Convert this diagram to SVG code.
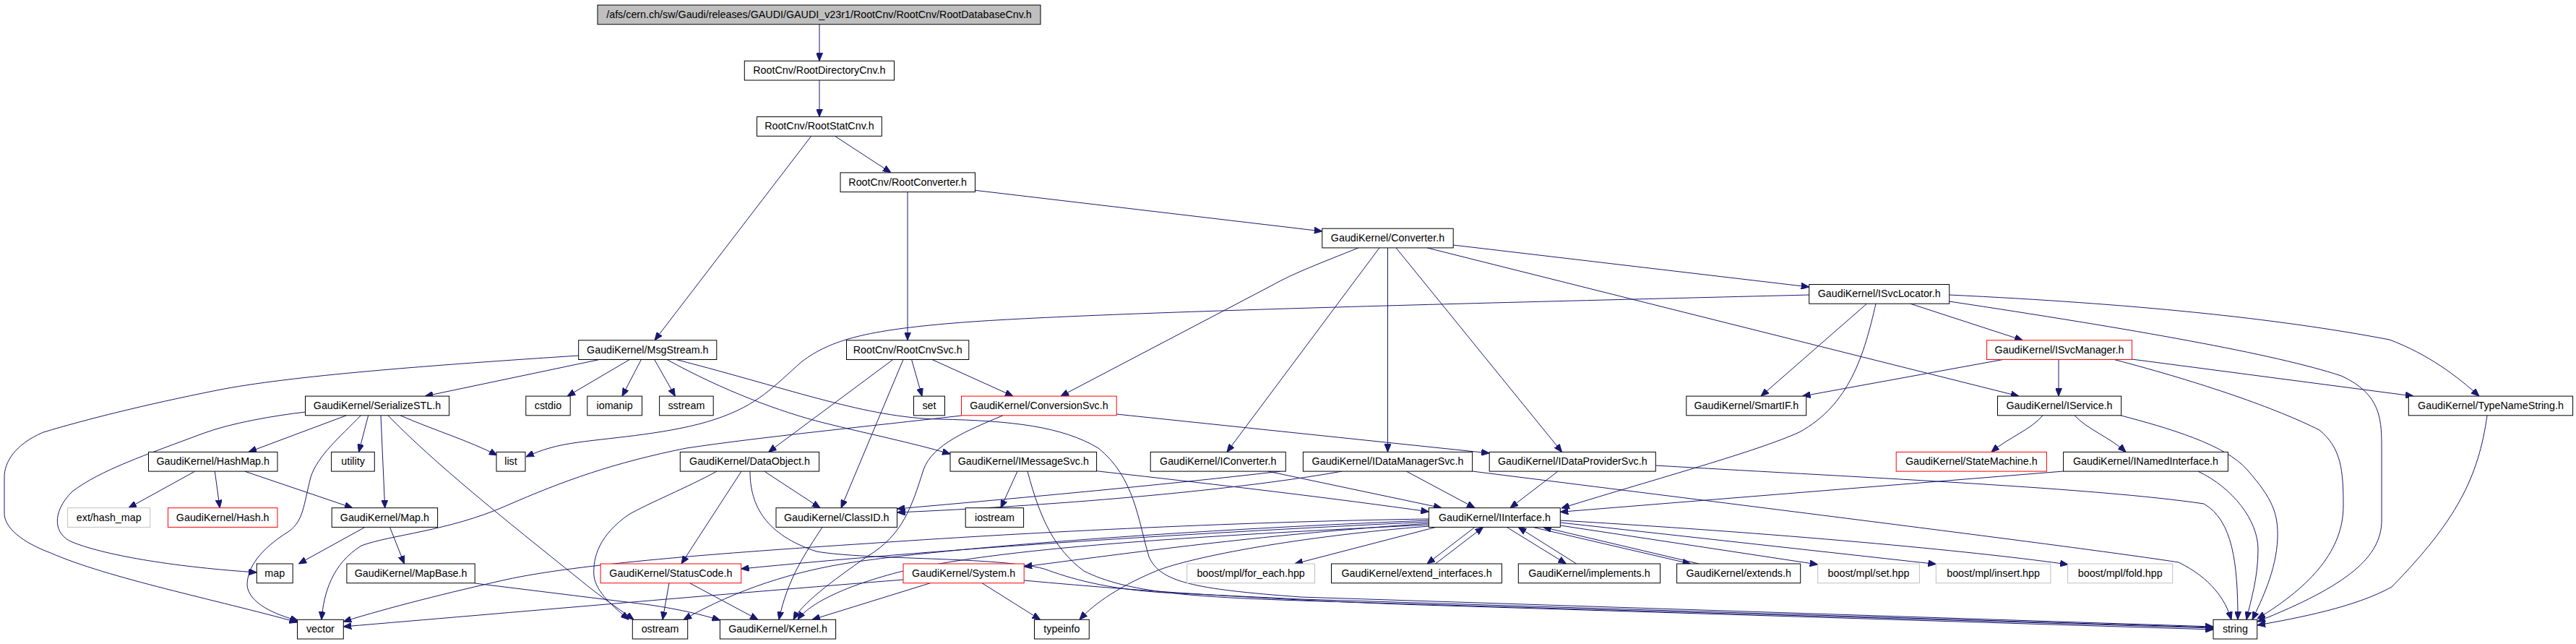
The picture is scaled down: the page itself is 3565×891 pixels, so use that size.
<svg xmlns="http://www.w3.org/2000/svg" width="3565" height="891" viewBox="0 0 3565 891">
<style>
rect{fill:#fff;stroke:#000;stroke-width:1}
rect.red{stroke:#ff0000}
rect.gry{stroke:#bfbfbf}
rect.root{fill:#bfbfbf}
text{font-family:"Liberation Sans",Arial,sans-serif;font-size:14.3px;text-anchor:middle;fill:#000}
#edges path{fill:none;stroke:#191970;stroke-width:1;marker-end:url(#ah)}
</style>
<defs>
<marker id="ah" markerWidth="11" markerHeight="9" refX="11" refY="4.5" orient="auto" markerUnits="userSpaceOnUse">
<path d="M0,0 L11,4.5 L0,9 z" fill="#191970" stroke="#191970" stroke-width="1"/>
</marker>
</defs>
<rect x="0" y="0" width="3565" height="891" style="fill:#fff;stroke:none"/>
<g id="edges">
<path d="M1134,33.7 L1134,84.3"/>
<path d="M1134,111 L1134,161.6"/>
<path d="M1122.7,188.3 L906,470.8"/>
<path d="M1155.4,188.3 L1233,238.9"/>
<path d="M1256,265.6 L1256,470.8"/>
<path d="M1349.4,263.3 L1829.8,320"/>
<path d="M2011,339 L2503.7,397"/>
<path d="M1880,342.9 C1830,363 1790,378 1760,395 L1468,548.1"/>
<path d="M1909,342.9 L1698,625.4"/>
<path d="M1920.5,342.9 L1920.5,625.4"/>
<path d="M1932,342.9 L2161.6,625.4"/>
<path d="M1975,342.9 L2793.8,548.1"/>
<path d="M2503.7,408 C2100,418 1500,432 1320,447 C1200,457 1150,470 1110,500 C1070,535 1050,560 990,580 C930,600 850,605 800,612 C770,616 750,622 728,632"/>
<path d="M2596,420.2 C2580,490 2560,560 2490,598 C2430,625 2300,660 2161,703"/>
<path d="M2583.5,420.2 L2437,548.1"/>
<path d="M2643.8,420.2 L2799.3,470.8"/>
<path d="M2697.7,408 C2950,420 3150,440 3307,470 C3360,490 3400,520 3431,548.1"/>
<path d="M2697.7,417 C2950,455 3150,490 3240,520 C3295,545 3296,580 3296,620 L3296,720 C3296,770 3250,810 3124,860"/>
<path d="M2771.7,497.5 L2494.5,548.1"/>
<path d="M2849,497.5 L2849,548.1"/>
<path d="M2950.5,497 L3340,548.1"/>
<path d="M2926,497.5 C3050,530 3150,565 3210,595 C3240,620 3243,650 3243,700 C3243,760 3200,810 3124,856"/>
<path d="M2827,574.8 C2810,595 2780,605 2756,625.4"/>
<path d="M2871,574.8 C2890,595 2920,605 2942,625.4"/>
<path d="M2935,574.8 C3000,592 3080,615 3110,650 C3145,690 3153,710 3152,745 C3150,790 3130,830 3117,857.3"/>
<path d="M3442,574.8 C3430,660 3400,720 3310,812 C3260,840 3180,855 3124,865"/>
<path d="M2855.6,652 L2159.3,708.3"/>
<path d="M3042,652.1 C3090,675 3125,720 3125,760 C3125,800 3115,830 3109,857.3"/>
<path d="M2291.3,644 C2600,662 2900,675 3050,697 C3090,720 3097,780 3097,857.3"/>
<path d="M2037.6,652 C2500,710 2900,760 3015,778 C3060,800 3080,830 3088,857.3"/>
<path d="M2156,652.1 L2090,702.7"/>
<path d="M1946.4,652.1 L2041,702.7"/>
<path d="M1755,652.1 L1995,702.7"/>
<path d="M1772,652.1 C1600,672 1400,690 1241.5,704"/>
<path d="M1857,652.1 C1700,680 1450,700 1241.5,709"/>
<path d="M1517.6,651.7 C1700,672 1850,690 1977.4,708"/>
<path d="M1408,652.1 L1385,702.7"/>
<path d="M1422,652.1 C1440,720 1460,760 1500,790 C1560,820 1650,826 1800,831 L3063,869"/>
<path d="M936,497.5 C1100,540 1200,578 1300,580 C1400,582 1470,590 1520,620 C1570,660 1575,720 1590,770 C1605,805 1650,815 1800,826 L3063,867"/>
<path d="M1038,652.1 C1038,700 1060,740 1130,763 C1200,775 1380,770 1445,787 C1480,800 1530,815 1612,820 L1800,829 L3063,868"/>
<path d="M1417.2,803 C1600,820 1800,832 2000,838 L3063,871"/>
<path d="M1235.8,497.5 L1063.6,625.4"/>
<path d="M1250,497.5 L1164,702.7"/>
<path d="M1261.6,497.5 L1276,548.1"/>
<path d="M1290,497.5 L1402,548.1"/>
<path d="M905.7,497.5 L934.4,548.1"/>
<path d="M923,497.5 C1000,540 1080,570 1140,585 C1200,600 1260,612 1315,628"/>
<path d="M829.4,497.5 L588.3,548.1"/>
<path d="M871.3,497.5 L785.2,548.1"/>
<path d="M887.4,497.5 L861,548.1"/>
<path d="M800.7,492 C600,505 400,520 300,540 C200,560 120,580 60,598 C20,615 6,640 6,660 L6,710 C6,730 30,750 70,765 C150,800 300,830 411.5,861"/>
<path d="M422.5,570 C380,575 320,585 280,600 C200,630 140,650 100,680 C70,710 75,740 100,750 C150,770 250,785 355.3,792"/>
<path d="M479.3,574.8 L344,625.4"/>
<path d="M499.4,574.8 C470,605 440,630 430,660 C420,700 420,720 400,735 C360,760 342,785 342,810 C345,835 380,850 413,859"/>
<path d="M509.7,574.8 L496.5,625.4"/>
<path d="M527,574.8 L532.7,702.7"/>
<path d="M537,574.8 C600,640 700,720 800,800 C830,825 860,845 877,857.3"/>
<path d="M554,574.8 C600,595 650,610 688,630"/>
<path d="M269.8,652.1 L178,702.7"/>
<path d="M297.3,652.1 L304.2,702.7"/>
<path d="M338.7,652.1 L487.9,702.7"/>
<path d="M505,729.4 L413.3,780"/>
<path d="M539.5,729.4 L559.6,780"/>
<path d="M657.2,807 L900,837 C940,843 970,850 996.4,858"/>
<path d="M1057.8,652.1 L1135,702.7"/>
<path d="M1026,652.1 L943,780"/>
<path d="M992,652.1 C950,675 900,695 870,712 C830,740 820,770 822,797 C825,820 850,840 870,857.3"/>
<path d="M1138,729.4 C1115,765 1090,800 1078,857.3"/>
<path d="M1330.5,575 C1200,590 1050,605 950,620 C850,640 780,665 700,700 C620,735 540,740 500,755 C460,780 448,820 445,857.3"/>
<path d="M1388,574.8 C1340,595 1290,615 1278,650 C1262,700 1250,740 1200,770 C1150,805 1110,835 1098,857.3"/>
<path d="M1545.2,573 L2061.2,627"/>
<path d="M926,806.7 L917,857.3"/>
<path d="M954.5,806.7 L1049,857.3"/>
<path d="M1250,802 C1000,822 700,848 475.3,867"/>
<path d="M1287.5,806.7 L1124,857.3"/>
<path d="M1359,806.7 L1439.6,857.3"/>
<path d="M1977.4,718 C1700,722 1400,738 1200,752 C1000,765 800,780 700,802 C620,820 540,840 475.3,860"/>
<path d="M1977.4,720 C1600,735 1300,760 1180,778 C1100,790 1020,815 946,857.3"/>
<path d="M1977.4,722 C1600,740 1300,760 1025.7,787"/>
<path d="M1977.4,724 C1750,740 1600,760 1417.2,784"/>
<path d="M1977.4,726 C1700,740 1400,755 1250,790 C1170,810 1120,835 1104,857.3"/>
<path d="M1977.4,728 C1800,742 1650,770 1600,790 C1540,815 1510,840 1494,857.3"/>
<path d="M1987,729.4 L1792,780"/>
<path d="M2041,729.4 L1975,780"/>
<path d="M1986.5,780 L2052.6,729.4"/>
<path d="M2085.3,729.4 L2167.4,780"/>
<path d="M2181.7,780 L2101.3,729.4"/>
<path d="M2121.4,729.4 L2339.5,780"/>
<path d="M2351,780 L2135.8,729.4"/>
<path d="M2159.3,727 L2515.7,781"/>
<path d="M2159.3,723 L2679.3,780.5"/>
<path d="M2159.3,720 C2500,740 2750,765 2862,781"/>
</g>
<g id="n_top"><rect class="root" x="827" y="7" width="613" height="26.7"/><text x="1133.5" y="24.8">/afs/cern.ch/sw/Gaudi/releases/GAUDI/GAUDI_v23r1/RootCnv/RootCnv/RootDatabaseCnv.h</text></g>
<g id="n_RootDirectoryCnv"><rect x="1030.3" y="84.3" width="207.2" height="26.7"/><text x="1133.9" y="102.1">RootCnv/RootDirectoryCnv.h</text></g>
<g id="n_RootStatCnv"><rect x="1047.5" y="161.6" width="172.8" height="26.7"/><text x="1133.9" y="179.4">RootCnv/RootStatCnv.h</text></g>
<g id="n_RootConverter"><rect x="1163" y="238.9" width="186.5" height="26.7"/><text x="1256.2" y="256.7">RootCnv/RootConverter.h</text></g>
<g id="n_Converter"><rect x="1829.8" y="316.2" width="181.4" height="26.7"/><text x="1920.5" y="334">GaudiKernel/Converter.h</text></g>
<g id="n_ISvcLocator"><rect x="2503.7" y="393.5" width="194" height="26.7"/><text x="2600.7" y="411.3">GaudiKernel/ISvcLocator.h</text></g>
<g id="n_MsgStream"><rect x="800.7" y="470.8" width="191.1" height="26.7"/><text x="896.3" y="488.6">GaudiKernel/MsgStream.h</text></g>
<g id="n_RootCnvSvc"><rect x="1171.5" y="470.8" width="169.3" height="26.7"/><text x="1256.2" y="488.6">RootCnv/RootCnvSvc.h</text></g>
<g id="n_ISvcManager"><rect class="red" x="2749.6" y="470.8" width="200.9" height="26.7"/><text x="2850" y="488.6">GaudiKernel/ISvcManager.h</text></g>
<g id="n_SerializeSTL"><rect x="422.5" y="548.1" width="199.1" height="26.7"/><text x="522" y="565.9">GaudiKernel/SerializeSTL.h</text></g>
<g id="n_cstdio"><rect x="727.8" y="548.1" width="61.4" height="26.7"/><text x="758.5" y="565.9">cstdio</text></g>
<g id="n_iomanip"><rect x="812.8" y="548.1" width="75.7" height="26.7"/><text x="850.6" y="565.9">iomanip</text></g>
<g id="n_sstream"><rect x="912.6" y="548.1" width="74.6" height="26.7"/><text x="949.9" y="565.9">sstream</text></g>
<g id="n_set"><rect x="1264.5" y="548.1" width="43" height="26.7"/><text x="1286" y="565.9">set</text></g>
<g id="n_ConversionSvc"><rect class="red" x="1330.5" y="548.1" width="214.7" height="26.7"/><text x="1437.9" y="565.9">GaudiKernel/ConversionSvc.h</text></g>
<g id="n_SmartIF"><rect x="2333.8" y="548.1" width="165.9" height="26.7"/><text x="2416.8" y="565.9">GaudiKernel/SmartIF.h</text></g>
<g id="n_IService"><rect x="2764.5" y="548.1" width="171.1" height="26.7"/><text x="2850" y="565.9">GaudiKernel/IService.h</text></g>
<g id="n_TypeNameString"><rect x="3333.3" y="548.1" width="227.3" height="26.7"/><text x="3447" y="565.9">GaudiKernel/TypeNameString.h</text></g>
<g id="n_HashMap"><rect x="205.5" y="625.4" width="178.5" height="26.7"/><text x="294.7" y="643.2">GaudiKernel/HashMap.h</text></g>
<g id="n_utility"><rect x="458.6" y="625.4" width="59.7" height="26.7"/><text x="488.5" y="643.2">utility</text></g>
<g id="n_list"><rect x="687" y="625.4" width="40" height="26.7"/><text x="707" y="643.2">list</text></g>
<g id="n_DataObject"><rect x="941.3" y="625.4" width="192.3" height="26.7"/><text x="1037.5" y="643.2">GaudiKernel/DataObject.h</text></g>
<g id="n_IMessageSvc"><rect x="1315" y="625.4" width="202.6" height="26.7"/><text x="1416.3" y="643.2">GaudiKernel/IMessageSvc.h</text></g>
<g id="n_IConverter"><rect x="1592.2" y="625.4" width="187.1" height="26.7"/><text x="1685.7" y="643.2">GaudiKernel/IConverter.h</text></g>
<g id="n_IDataManagerSvc"><rect x="1803.4" y="625.4" width="234.2" height="26.7"/><text x="1920.5" y="643.2">GaudiKernel/IDataManagerSvc.h</text></g>
<g id="n_IDataProviderSvc"><rect x="2061.2" y="625.4" width="230.1" height="26.7"/><text x="2176.3" y="643.2">GaudiKernel/IDataProviderSvc.h</text></g>
<g id="n_StateMachine"><rect class="red" x="2624.2" y="625.4" width="208.2" height="26.7"/><text x="2728.3" y="643.2">GaudiKernel/StateMachine.h</text></g>
<g id="n_INamedInterface"><rect x="2855.6" y="625.4" width="227.8" height="26.7"/><text x="2969.5" y="643.2">GaudiKernel/INamedInterface.h</text></g>
<g id="n_ext_hash_map"><rect class="gry" x="93.6" y="702.7" width="114.2" height="26.7"/><text x="150.7" y="720.5">ext/hash_map</text></g>
<g id="n_Hash"><rect class="red" x="232.5" y="702.7" width="151.5" height="26.7"/><text x="308.2" y="720.5">GaudiKernel/Hash.h</text></g>
<g id="n_Map"><rect x="459.2" y="702.7" width="146.4" height="26.7"/><text x="532.4" y="720.5">GaudiKernel/Map.h</text></g>
<g id="n_ClassID"><rect x="1074" y="702.7" width="167.5" height="26.7"/><text x="1157.7" y="720.5">GaudiKernel/ClassID.h</text></g>
<g id="n_iostream"><rect x="1336.2" y="702.7" width="80.4" height="26.7"/><text x="1376.4" y="720.5">iostream</text></g>
<g id="n_IInterface"><rect x="1977.4" y="702.7" width="181.9" height="26.7"/><text x="2068.4" y="720.5">GaudiKernel/IInterface.h</text></g>
<g id="n_map"><rect x="355.3" y="780" width="49.9" height="26.7"/><text x="380.2" y="797.8">map</text></g>
<g id="n_MapBase"><rect x="479.9" y="780" width="177.3" height="26.7"/><text x="568.6" y="797.8">GaudiKernel/MapBase.h</text></g>
<g id="n_StatusCode"><rect class="red" x="831.1" y="780" width="194.6" height="26.7"/><text x="928.4" y="797.8">GaudiKernel/StatusCode.h</text></g>
<g id="n_System"><rect class="red" x="1250" y="780" width="167.2" height="26.7"/><text x="1333.6" y="797.8">GaudiKernel/System.h</text></g>
<g id="n_for_each"><rect class="gry" x="1642.7" y="780" width="176.8" height="26.7"/><text x="1731.1" y="797.8">boost/mpl/for_each.hpp</text></g>
<g id="n_extend_interfaces"><rect x="1842.5" y="780" width="235.9" height="26.7"/><text x="1960.5" y="797.8">GaudiKernel/extend_interfaces.h</text></g>
<g id="n_implements"><rect x="2101.3" y="780" width="196.3" height="26.7"/><text x="2199.4" y="797.8">GaudiKernel/implements.h</text></g>
<g id="n_extends"><rect x="2320.6" y="780" width="171.1" height="26.7"/><text x="2406.2" y="797.8">GaudiKernel/extends.h</text></g>
<g id="n_set_hpp"><rect class="gry" x="2515.7" y="780" width="140.7" height="26.7"/><text x="2586" y="797.8">boost/mpl/set.hpp</text></g>
<g id="n_insert_hpp"><rect class="gry" x="2679.3" y="780" width="158.6" height="26.7"/><text x="2758.6" y="797.8">boost/mpl/insert.hpp</text></g>
<g id="n_fold_hpp"><rect class="gry" x="2861.6" y="780" width="145.1" height="26.7"/><text x="2934.2" y="797.8">boost/mpl/fold.hpp</text></g>
<g id="n_vector"><rect x="411.5" y="857.3" width="63.8" height="26.7"/><text x="443.4" y="875.1">vector</text></g>
<g id="n_ostream"><rect x="875.3" y="857.3" width="76.4" height="26.7"/><text x="913.5" y="875.1">ostream</text></g>
<g id="n_Kernel"><rect x="996.4" y="857.3" width="160.2" height="26.7"/><text x="1076.5" y="875.1">GaudiKernel/Kernel.h</text></g>
<g id="n_typeinfo"><rect x="1431.5" y="857.3" width="75.8" height="26.7"/><text x="1469.4" y="875.1">typeinfo</text></g>
<g id="n_string"><rect x="3063" y="857.3" width="60.7" height="26.7"/><text x="3093.4" y="875.1">string</text></g>
</svg>
